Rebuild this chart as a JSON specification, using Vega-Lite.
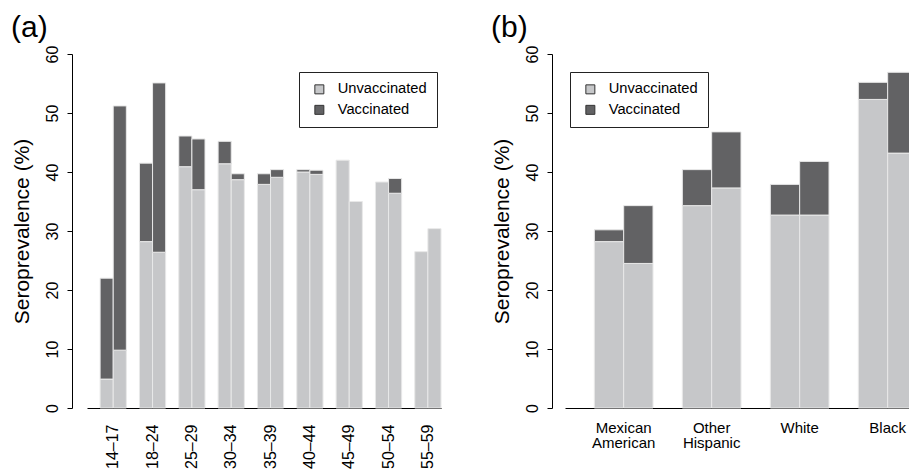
{
  "$schema": "https://vega.github.io/schema/vega-lite/v6.json",
  "padding": {"left": 10, "top": 13, "right": 0, "bottom": 0},
  "autosize": {"type": "pad"},
  "config": {
    "font": "Liberation Sans",
    "view": {"stroke": null},
    "title": {"fontSize": 30, "fontWeight": "normal", "anchor": "start", "frame": "bounds", "offset": 2, "color": "black"},
    "axis": {"domainColor": "black", "tickColor": "black", "labelColor": "black", "titleColor": "black", "titleFontWeight": "normal", "grid": false, "labelFontSize": 16},
    "legend": {"title": null, "orient": "none", "strokeColor": "#222", "fillColor": "white", "padding": 10, "symbolType": "square", "symbolSize": 81, "symbolStrokeColor": "#333", "symbolStrokeWidth": 1, "labelFontSize": 14.7, "labelColor": "black", "labelOffset": 11, "rowPadding": 4.5, "symbolOffset": 3, "legendY": 18}
  },
  "spacing": 48,
  "resolve": {"scale": {"color": "independent", "y": "independent", "x": "independent", "xOffset": "independent"}, "legend": {"color": "independent"}},
  "hconcat": [
    {
      "title": {"text": "(a)"},
      "width": 354,
      "height": 354,
      "data": {"values": [
        {"group": "14–17", "period": "1", "status": "Unvaccinated", "value": 4.9},
        {"group": "14–17", "period": "1", "status": "Vaccinated", "value": 17.1},
        {"group": "14–17", "period": "2", "status": "Unvaccinated", "value": 9.8},
        {"group": "14–17", "period": "2", "status": "Vaccinated", "value": 41.4},
        {"group": "18–24", "period": "1", "status": "Unvaccinated", "value": 28.2},
        {"group": "18–24", "period": "1", "status": "Vaccinated", "value": 13.3},
        {"group": "18–24", "period": "2", "status": "Unvaccinated", "value": 26.4},
        {"group": "18–24", "period": "2", "status": "Vaccinated", "value": 28.7},
        {"group": "25–29", "period": "1", "status": "Unvaccinated", "value": 40.9},
        {"group": "25–29", "period": "1", "status": "Vaccinated", "value": 5.2},
        {"group": "25–29", "period": "2", "status": "Unvaccinated", "value": 37.0},
        {"group": "25–29", "period": "2", "status": "Vaccinated", "value": 8.6},
        {"group": "30–34", "period": "1", "status": "Unvaccinated", "value": 41.4},
        {"group": "30–34", "period": "1", "status": "Vaccinated", "value": 3.8},
        {"group": "30–34", "period": "2", "status": "Unvaccinated", "value": 38.7},
        {"group": "30–34", "period": "2", "status": "Vaccinated", "value": 1.0},
        {"group": "35–39", "period": "1", "status": "Unvaccinated", "value": 37.9},
        {"group": "35–39", "period": "1", "status": "Vaccinated", "value": 1.8},
        {"group": "35–39", "period": "2", "status": "Unvaccinated", "value": 39.1},
        {"group": "35–39", "period": "2", "status": "Vaccinated", "value": 1.3},
        {"group": "40–44", "period": "1", "status": "Unvaccinated", "value": 40.0},
        {"group": "40–44", "period": "1", "status": "Vaccinated", "value": 0.4},
        {"group": "40–44", "period": "2", "status": "Unvaccinated", "value": 39.6},
        {"group": "40–44", "period": "2", "status": "Vaccinated", "value": 0.7},
        {"group": "45–49", "period": "1", "status": "Unvaccinated", "value": 42.0},
        {"group": "45–49", "period": "2", "status": "Unvaccinated", "value": 35.0},
        {"group": "50–54", "period": "1", "status": "Unvaccinated", "value": 38.3},
        {"group": "50–54", "period": "2", "status": "Unvaccinated", "value": 36.4},
        {"group": "50–54", "period": "2", "status": "Vaccinated", "value": 2.5},
        {"group": "55–59", "period": "1", "status": "Unvaccinated", "value": 26.5},
        {"group": "55–59", "period": "2", "status": "Unvaccinated", "value": 30.4}
      ]},
      "mark": {"type": "bar", "stroke": "#e8e8e8", "strokeWidth": 1},
      "encoding": {
        "x": {"field": "group", "type": "nominal", "sort": null,
              "scale": {"paddingInner": 0.3333, "paddingOuter": 0.1667, "align": 1},
              "axis": {"title": null, "labelAngle": -90, "labelAlign": "right", "labelBaseline": "middle", "ticks": false, "tickSize": 0, "labelPadding": 16, "domain": true}},
        "xOffset": {"field": "period", "type": "nominal", "scale": {"paddingInner": 0, "paddingOuter": 0}},
        "y": {"field": "value", "type": "quantitative", "stack": "zero",
              "scale": {"domain": [0, 60], "nice": false},
              "axis": {"title": "Seroprevalence (%)", "values": [0, 10, 20, 30, 40, 50, 60], "labelAngle": -90, "labelAlign": "center", "labelBaseline": "alphabetic", "labelFlush": false, "labelOverlap": false, "tickSize": 5, "labelPadding": 10, "offset": 15, "titleFontSize": 21, "titlePadding": 12}},
        "color": {"field": "status", "type": "nominal",
                  "scale": {"domain": ["Unvaccinated", "Vaccinated"], "range": ["#c6c7c9", "#626264"]},
                  "legend": {"legendX": 212}},
        "order": {"field": "status"}
      }
    },
    {
      "title": {"text": "(b)"},
      "width": 352,
      "height": 354,
      "data": {"values": [
        {"group": "Mexican American", "period": "1", "status": "Unvaccinated", "value": 28.2},
        {"group": "Mexican American", "period": "1", "status": "Vaccinated", "value": 2.0},
        {"group": "Mexican American", "period": "2", "status": "Unvaccinated", "value": 24.5},
        {"group": "Mexican American", "period": "2", "status": "Vaccinated", "value": 9.8},
        {"group": "Other Hispanic", "period": "1", "status": "Unvaccinated", "value": 34.3},
        {"group": "Other Hispanic", "period": "1", "status": "Vaccinated", "value": 6.1},
        {"group": "Other Hispanic", "period": "2", "status": "Unvaccinated", "value": 37.3},
        {"group": "Other Hispanic", "period": "2", "status": "Vaccinated", "value": 9.5},
        {"group": "White", "period": "1", "status": "Unvaccinated", "value": 32.7},
        {"group": "White", "period": "1", "status": "Vaccinated", "value": 5.2},
        {"group": "White", "period": "2", "status": "Unvaccinated", "value": 32.7},
        {"group": "White", "period": "2", "status": "Vaccinated", "value": 9.1},
        {"group": "Black", "period": "1", "status": "Unvaccinated", "value": 52.3},
        {"group": "Black", "period": "1", "status": "Vaccinated", "value": 2.9},
        {"group": "Black", "period": "2", "status": "Unvaccinated", "value": 43.2},
        {"group": "Black", "period": "2", "status": "Vaccinated", "value": 13.7}
      ]},
      "mark": {"type": "bar", "stroke": "#e8e8e8", "strokeWidth": 1},
      "encoding": {
        "x": {"field": "group", "type": "nominal", "sort": null,
              "scale": {"paddingInner": 0.3333, "paddingOuter": 0.1667, "align": 1},
              "axis": {"title": null, "labelAngle": 0, "labelAlign": "center", "labelBaseline": "top", "labelExpr": "split(datum.label, ' ')", "labelFontSize": 15, "labelLineHeight": 15.5, "ticks": false, "tickSize": 0, "labelPadding": 12, "domain": true}},
        "xOffset": {"field": "period", "type": "nominal", "scale": {"paddingInner": 0, "paddingOuter": 0}},
        "y": {"field": "value", "type": "quantitative", "stack": "zero",
              "scale": {"domain": [0, 60], "nice": false},
              "axis": {"title": "Seroprevalence (%)", "values": [0, 10, 20, 30, 40, 50, 60], "labelAngle": -90, "labelAlign": "center", "labelBaseline": "alphabetic", "labelFlush": false, "labelOverlap": false, "tickSize": 5, "labelPadding": 10, "offset": 13, "titleFontSize": 21, "titlePadding": 12}},
        "color": {"field": "status", "type": "nominal",
                  "scale": {"domain": ["Unvaccinated", "Vaccinated"], "range": ["#c6c7c9", "#626264"]},
                  "legend": {"legendX": 5}},
        "order": {"field": "status"}
      }
    }
  ]
}
